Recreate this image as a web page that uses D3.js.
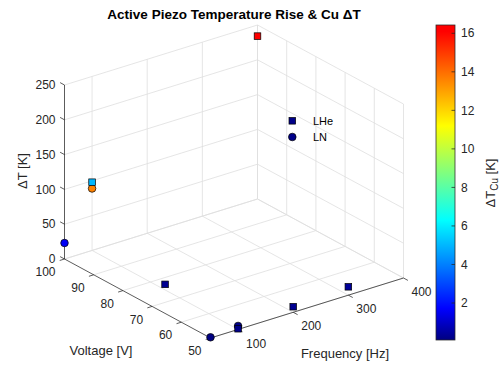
<!DOCTYPE html>
<html><head><meta charset="utf-8">
<script src="https://cdn.jsdelivr.net/npm/d3@7"></script>
<style>
body{margin:0;background:#fff}
svg{display:block;font-family:Arial,'Liberation Sans',Helvetica,sans-serif}
</style>
</head><body>
<svg id="c" width="502" height="368"></svg>
<script>
// ---- data ----
const freqTicks = [100, 200, 300, 400];
const voltTicks = [50, 60, 70, 80, 90, 100];
const dtTicks = [0, 50, 100, 150, 200, 250];
const cbTicks = [2, 4, 6, 8, 10, 12, 14, 16];

const lheFreq = [400, 100, 100, 200, 300, 100];
const lheVolt = [100, 100, 75, 50, 50, 50];
const lheDT   = [234, 98, 8, 8, 12, 1];
const lheCu   = [16.3, 5.0, 0.3, 0.3, 0.4, 0.2];

const lnFreq = [100, 50, 100, 50];
const lnVolt = [100, 100, 50, 50];
const lnDT   = [89, 23, 5, 1];
const lnCu   = [13.6, 1.6, 0.2, 0.1];

const freqDomain = [50, 400];
const voltDomain = [50, 100];
const dtDomain = [0, 250];
const cuDomain = [0.08, 16.43];

// ---- layout ----
const svg = d3.select("#c");
const O = {x: 210.5, y: 338};
const FV = {x: 193, y: -60};
const VV = {x: -146, y: -79};
const fS = d3.scaleLinear(freqDomain, [0, 1]);
const vS = d3.scaleLinear(voltDomain, [0, 1]);
const zS = d3.scaleLinear(dtDomain, [0, -174]);
function P(f, v, z) {
  const a = fS(f), b = vS(v);
  return [O.x + a * FV.x + b * VV.x, O.y + a * FV.y + b * VV.y + zS(z)];
}

const axisCol = "#262626";
const gridCol = "#dedede";

// colormap (jet-like, ending in red)
const cmap = d3.scaleLinear()
  .domain([0.08, 1.7, 6.3, 11.2, 16.1, 16.43])
  .range(["#000080", "#0000ff", "#00ffff", "#ffff00", "#ff0000", "#ff0000"])
  .clamp(true);

// ---- grid ----
const g = svg.append("g").attr("fill", "none").attr("stroke", gridCol).attr("stroke-width", 0.8);
function seg(p, q, sel, col, w) {
  sel.append("line").attr("x1", p[0]).attr("y1", p[1]).attr("x2", q[0]).attr("y2", q[1])
    .attr("stroke", col || null).attr("stroke-width", w || null);
}
// floor
freqTicks.forEach(f => seg(P(f, 50, 0), P(f, 100, 0), g));
voltTicks.forEach(v => seg(P(50, v, 0), P(400, v, 0), g));
// back wall V=100
freqTicks.forEach(f => seg(P(f, 100, 0), P(f, 100, 250), g));
dtTicks.forEach(z => seg(P(50, 100, z), P(400, 100, z), g));
// back wall F=400
voltTicks.forEach(v => seg(P(400, v, 0), P(400, v, 250), g));
dtTicks.forEach(z => seg(P(400, 50, z), P(400, 100, z), g));

// ---- axes ----
const ax = svg.append("g").attr("stroke", axisCol).attr("stroke-width", 0.75);
seg(P(50, 100, 0), P(50, 100, 250), ax);
seg(P(50, 50, 0), P(50, 100, 0), ax);
seg(P(50, 50, 0), P(400, 50, 0), ax);

const tl = 5;
const fLen = Math.hypot(FV.x, FV.y), vLen = Math.hypot(VV.x, VV.y);
const tick = svg.append("g").attr("fill", axisCol).attr("font-size", "12px");
// z ticks (direction +V)
dtTicks.forEach(z => {
  const p = P(50, 100, z);
  seg(p, [p[0] + VV.x / vLen * tl, p[1] + VV.y / vLen * tl], ax);
  tick.append("text").attr("x", p[0] - 9).attr("y", p[1]).attr("dy", "0.35em")
    .attr("text-anchor", "end").text(z);
});
// voltage ticks (direction -F)
voltTicks.forEach(v => {
  const p = P(50, v, 0);
  seg(p, [p[0] - FV.x / fLen * tl, p[1] - FV.y / fLen * tl], ax);
  tick.append("text").attr("x", p[0] - 9).attr("y", p[1] + 13).attr("dy", "0.35em")
    .attr("text-anchor", "end").text(v);
});
// frequency ticks (direction -V)
freqTicks.forEach(f => {
  const p = P(f, 50, 0);
  seg(p, [p[0] - VV.x / vLen * tl, p[1] - VV.y / vLen * tl], ax);
  tick.append("text").attr("x", p[0] + 8).attr("y", p[1] + 14).attr("dy", "0.35em")
    .attr("text-anchor", "start").text(f);
});

// ---- points ----
const pts = svg.append("g").attr("stroke", "#000").attr("stroke-width", 0.7);
lnFreq.forEach((f, i) => {
  const p = P(f, lnVolt[i], lnDT[i]);
  pts.append("circle").attr("cx", p[0]).attr("cy", p[1]).attr("r", 3.8).attr("fill", cmap(lnCu[i]));
});
lheFreq.forEach((f, i) => {
  const p = P(f, lheVolt[i], lheDT[i]);
  pts.append("rect").attr("x", p[0] - 3.3).attr("y", p[1] - 3.3).attr("width", 6.6).attr("height", 6.6)
    .attr("fill", cmap(lheCu[i]));
});

// ---- legend ----
const lg = svg.append("g");
lg.append("rect").attr("x", 289).attr("y", 117.5).attr("width", 6.6).attr("height", 6.6)
  .attr("fill", cmap(0.2)).attr("stroke", "#000").attr("stroke-width", 0.7);
lg.append("circle").attr("cx", 292.3).attr("cy", 137).attr("r", 3.8)
  .attr("fill", cmap(0.2)).attr("stroke", "#000").attr("stroke-width", 0.7);
lg.append("text").attr("x", 313).attr("y", 121).attr("dy", "0.35em").attr("font-size", "11px").attr("fill", "#000").text("LHe");
lg.append("text").attr("x", 313).attr("y", 137).attr("dy", "0.35em").attr("font-size", "11px").attr("fill", "#000").text("LN");

// ---- labels ----
svg.append("text").attr("x", 234).attr("y", 19).attr("text-anchor", "middle")
  .attr("font-size", "13.5px").attr("font-weight", "bold").attr("fill", "#000")
  .text("Active Piezo Temperature Rise & Cu \u0394T");
svg.append("text").attr("transform", "translate(27,171) rotate(-90)").attr("text-anchor", "middle")
  .attr("font-size", "13px").attr("fill", axisCol).text("\u0394T [K]");
svg.append("text").attr("x", 101).attr("y", 355).attr("text-anchor", "middle")
  .attr("font-size", "13px").attr("fill", axisCol).text("Voltage [V]");
svg.append("text").attr("x", 345).attr("y", 358).attr("text-anchor", "middle")
  .attr("font-size", "13px").attr("fill", axisCol).text("Frequency [Hz]");

// ---- colorbar ----
const cbX = 436, cbW = 19;
const cbY = d3.scaleLinear(cuDomain, [340, 25]);
const defs = svg.append("defs");
const grad = defs.append("linearGradient").attr("id", "cbg").attr("x1", 0).attr("y1", 1).attr("x2", 0).attr("y2", 0);
d3.range(0, 1.0001, 0.02).forEach(t => {
  const v = cuDomain[0] + t * (cuDomain[1] - cuDomain[0]);
  grad.append("stop").attr("offset", t).attr("stop-color", cmap(v));
});
svg.append("rect").attr("x", cbX).attr("y", cbY(cuDomain[1])).attr("width", cbW)
  .attr("height", cbY(cuDomain[0]) - cbY(cuDomain[1])).attr("fill", "url(#cbg)")
  .attr("stroke", axisCol).attr("stroke-width", 0.75);
const cb = svg.append("g").attr("font-size", "12px").attr("fill", axisCol);
cbTicks.forEach(t => {
  const y = cbY(t);
  cb.append("line").attr("x1", cbX + cbW - 3.5).attr("x2", cbX + cbW).attr("y1", y).attr("y2", y)
    .attr("stroke", axisCol).attr("stroke-width", 0.75);
  cb.append("text").attr("x", cbX + cbW + 6).attr("y", y).attr("dy", "0.35em").text(t);
});
const cl = svg.append("text").attr("transform", "translate(495,183) rotate(-90)")
  .attr("text-anchor", "middle").attr("font-size", "13px").attr("fill", axisCol);
cl.append("tspan").text("\u0394T");
cl.append("tspan").attr("font-size", "10px").attr("dy", 3).text("Cu");
cl.append("tspan").attr("dy", -3).text(" [K]");
</script>
</body></html>
